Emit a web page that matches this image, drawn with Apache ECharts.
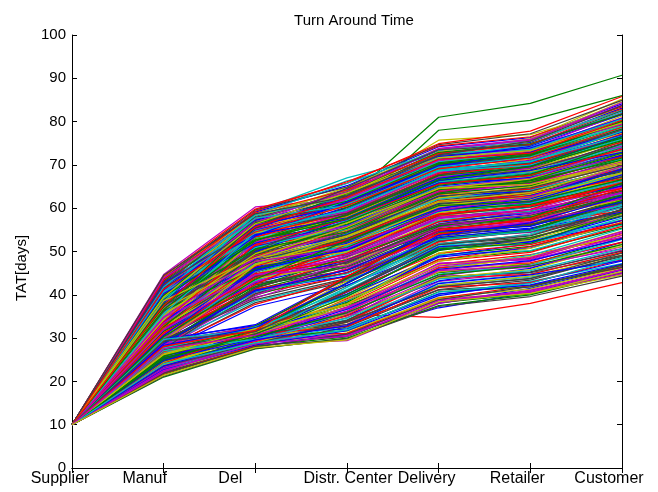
<!DOCTYPE html>
<html>
<head>
<meta charset="utf-8">
<script src="https://cdn.jsdelivr.net/npm/echarts@6/dist/echarts.min.js"></script>
<style>
  html, body { margin: 0; padding: 0; background: #fff; }
  #chart { width: 658px; height: 492px; }
</style>
</head>
<body>
<div id="chart"></div>
<script>
// Supply-chain stages along the x axis
const stages = ['Supplier', 'Manuf', 'Del', 'Distr. Center', 'Delivery', 'Retailer', 'Customer'];

// Value-axis range and step (days)
const yMin = 0;
const yMax = 100;
const yStep = 10;

// Every run starts at the supplier with the same TAT
const supplierTat = 10;

// Cumulative TAT per run for Manuf, Del, Distr. Center, Delivery, Retailer, Customer
// Runs on the edges of the bundle
const edgeRuns = [
  [22.0, 28.0, 31.0, 37.0, 40.5, 45.7],
  [35.0, 50.0, 62.0, 81.0, 84.2, 90.7],
  [25.0, 30.0, 35.5, 34.8, 38.0, 42.8],
  [43.5, 59.2, 67.0, 72.5, 74.0, 80.0],
  [44.7, 60.3, 62.0, 71.0, 73.0, 80.0],
  [40.0, 56.0, 63.0, 75.7, 77.0, 83.0],
  [30.0, 41.0, 45.0, 54.0, 56.0, 61.0],
  [23.0, 28.8, 30.5, 38.0, 41.5, 46.5],
  [37.0, 52.0, 58.5, 78.0, 80.3, 86.0],
  [33.0, 46.0, 52.0, 61.0, 63.0, 69.0],
  [42.5, 58.5, 66.3, 71.0, 73.0, 79.0],
  [23.0, 28.5, 29.4, 38.0, 41.0, 46.0],
  [39.0, 55.0, 60.5, 70.0, 72.0, 78.0],
  [27.0, 30.8, 41.0, 51.0, 53.0, 59.0],
  [36.0, 51.0, 57.0, 65.5, 67.0, 73.0],
  [21.0, 27.5, 30.0, 37.5, 40.0, 45.0]
];

// Runs that pass through the upper branch at Del
const upperRuns = [
  [38.4, 52.7, 58.2, 66.5, 68.3, 74.6],
  [31.2, 44.5, 49.8, 57.3, 59.1, 63.8],
  [42.1, 57.4, 63.6, 71.2, 73.4, 80.5],
  [35.6, 47.3, 51.5, 60.4, 62.7, 69.2],
  [29.3, 40.6, 45.2, 53.8, 55.4, 60.3],
  [40.7, 55.2, 60.9, 69.6, 71.3, 78.4],
  [33.5, 48.1, 55.3, 62.7, 64.5, 70.8],
  [36.8, 50.4, 54.6, 63.1, 66.2, 71.7],
  [27.4, 38.2, 43.1, 51.6, 53.2, 58.5],
  [41.3, 53.8, 59.4, 68.2, 70.6, 76.3],
  [34.2, 46.7, 53.1, 61.5, 63.3, 68.9],
  [39.5, 56.3, 62.2, 70.4, 72.8, 79.6],
  [30.6, 42.2, 47.5, 56.1, 57.6, 62.4],
  [37.1, 49.6, 56.4, 64.8, 66.1, 73.2],
  [43.2, 58.1, 64.5, 73.3, 75.2, 83.1],
  [32.4, 45.3, 50.2, 58.6, 61.4, 66.7],
  [28.2, 41.5, 48.3, 54.2, 56.5, 61.6],
  [38.9, 54.1, 57.3, 67.4, 69.5, 77.2],
  [35.3, 51.2, 57.8, 65.2, 67.4, 72.5],
  [41.8, 52.3, 56.7, 65.9, 68.1, 75.4],
  [30.1, 43.4, 51.2, 59.3, 60.8, 65.5],
  [36.2, 48.5, 52.4, 61.2, 63.5, 67.3],
  [33.1, 46.2, 49.3, 57.7, 60.2, 64.6],
  [40.2, 57.1, 61.5, 70.8, 73.1, 81.3],
  [29.6, 39.4, 44.4, 52.5, 54.7, 59.2],
  [37.6, 53.5, 60.3, 68.6, 70.4, 75.8],
  [34.7, 49.2, 53.7, 62.3, 63.8, 69.6],
  [42.6, 55.7, 62.8, 72.1, 74.5, 82.2],
  [31.7, 44.1, 52.6, 60.5, 62.2, 67.1],
  [39.1, 50.8, 55.5, 64.2, 66.6, 72.3],
  [27.1, 37.3, 42.2, 50.4, 52.3, 56.4],
  [36.5, 52.2, 58.6, 66.3, 69.2, 76.1],
  [32.8, 47.6, 51.1, 59.7, 62.4, 65.3],
  [40.4, 54.6, 58.5, 67.8, 69.1, 74.2],
  [35.1, 45.8, 50.6, 58.2, 60.5, 66.1],
  [43.6, 59.1, 65.2, 74.2, 76.3, 84.1],
  [30.3, 41.2, 46.5, 55.3, 57.2, 63.2],
  [38.2, 51.5, 59.2, 67.1, 68.6, 73.5],
  [33.8, 49.4, 56.1, 63.4, 65.3, 71.3],
  [41.1, 56.5, 60.4, 69.3, 72.2, 79.1],
  [28.6, 42.3, 45.6, 53.4, 56.1, 62.1],
  [37.3, 47.1, 54.2, 62.6, 64.2, 68.4],
  [34.4, 50.1, 55.2, 64.1, 65.6, 70.3],
  [39.7, 53.3, 57.6, 66.7, 68.4, 74.5],
  [31.4, 43.2, 48.2, 57.2, 58.3, 61.7],
  [42.3, 54.4, 61.3, 70.2, 72.4, 78.2],
  [36.1, 46.4, 51.8, 60.1, 61.6, 66.4],
  [29.2, 44.3, 50.4, 58.1, 59.4, 64.2],
  [40.8, 58.3, 63.1, 72.4, 74.1, 80.2],
  [35.4, 48.2, 52.1, 61.3, 64.3, 70.4],
  [32.2, 42.6, 46.3, 54.6, 56.2, 60.4],
  [38.6, 55.4, 61.7, 69.4, 71.6, 77.5],
  [33.3, 45.1, 54.3, 61.1, 62.5, 67.4],
  [41.5, 51.6, 55.1, 64.5, 67.3, 73.4],
  [27.8, 39.2, 46.2, 53.1, 54.4, 58.2],
  [37.2, 52.4, 56.2, 65.4, 67.2, 71.5],
  [34.1, 47.4, 52.3, 60.2, 62.1, 68.3],
  [39.3, 57.3, 64.1, 71.4, 72.5, 78.8],
  [30.8, 40.3, 44.2, 52.2, 55.1, 60.1],
  [36.4, 49.1, 57.2, 64.4, 66.4, 72.1],
  [42.4, 56.2, 59.1, 68.4, 71.4, 77.3],
  [31.5, 46.1, 49.2, 58.4, 60.3, 65.2],
  [35.8, 50.6, 58.1, 66.2, 67.5, 73.7],
  [40.1, 53.2, 60.1, 68.1, 70.2, 75.2],
  [28.4, 38.6, 43.4, 51.2, 52.6, 57.3],
  [38.3, 48.4, 53.4, 62.2, 65.1, 70.2],
  [33.6, 44.2, 47.3, 56.2, 58.4, 63.1],
  [43.1, 57.2, 62.4, 71.6, 74.3, 81.6],
  [34.5, 51.4, 54.3, 63.2, 64.4, 69.1],
  [37.4, 54.2, 59.3, 67.3, 70.1, 76.4],
  [29.4, 43.1, 49.1, 56.3, 57.4, 62.2],
  [41.2, 55.3, 63.2, 72.2, 73.5, 79.3],
  [32.5, 48.3, 53.2, 61.2, 63.1, 67.2],
  [39.2, 49.3, 54.2, 63.3, 65.2, 71.1],
  [36.3, 53.1, 57.1, 66.1, 68.2, 74.1],
  [30.4, 45.2, 52.2, 60.2, 61.3, 66.2],
  [44.1, 58.4, 63.3, 73.1, 76.1, 85.2],
  [35.2, 46.1, 50.3, 59.2, 61.2, 65.1],
  [38.1, 52.3, 60.2, 69.2, 70.3, 76.2],
  [31.1, 41.3, 45.1, 54.1, 56.3, 59.4],
  [40.3, 56.1, 62.1, 71.1, 73.2, 79.4],
  [34.3, 48.6, 51.4, 60.3, 63.2, 68.1],
  [28.1, 40.2, 47.1, 55.2, 56.2, 61.3],
  [37.5, 50.2, 55.4, 64.3, 66.3, 71.2],
  [42.2, 59.3, 66.1, 74.4, 76.5, 83.4],
  [33.2, 47.2, 54.1, 62.1, 64.1, 69.4],
  [39.4, 54.3, 58.1, 67.2, 68.5, 73.1],
  [30.2, 44.4, 48.1, 56.4, 59.2, 64.1],
  [36.6, 51.1, 56.1, 65.1, 67.1, 72.2],
  [41.4, 53.4, 58.3, 67.6, 70.3, 77.1],
  [32.1, 43.3, 50.1, 57.1, 59.3, 63.3],
  [35.5, 52.1, 59.1, 67.2, 69.3, 74.3],
  [38.5, 47.5, 52.2, 61.4, 62.3, 67.1],
  [29.1, 41.1, 44.3, 53.2, 55.2, 59.1],
  [43.3, 56.4, 61.2, 70.1, 72.1, 80.1],
  [34.6, 45.4, 51.3, 59.1, 61.1, 66.3],
  [40.6, 55.1, 59.2, 68.3, 71.1, 78.1],
  [31.3, 47.1, 53.3, 61.4, 62.2, 68.2],
  [37.7, 46.3, 50.4, 59.4, 62.1, 69.1],
  [36.7, 55.5, 63.4, 70.3, 72.2, 78.3],
  [39.8, 55.8, 61.1, 70.6, 72.9, 80.8],
  [30.9, 43.7, 49.5, 57.9, 59.7, 64.9],
  [41.7, 57.8, 64.8, 73.7, 75.8, 84.6],
  [35.9, 49.8, 54.9, 63.8, 65.9, 71.9],
  [28.9, 39.9, 45.8, 54.4, 55.9, 61.4],
  [37.9, 53.9, 58.9, 67.9, 69.8, 76.8],
  [33.9, 46.9, 51.9, 60.8, 62.9, 67.8],
  [42.8, 58.8, 63.9, 72.8, 75.4, 82.8],
  [32.7, 45.9, 52.8, 60.9, 62.8, 68.7],
  [40.9, 54.9, 59.8, 68.8, 70.9, 76.9],
  [27.6, 37.8, 43.7, 51.9, 53.8, 59.7],
  [36.9, 51.8, 56.8, 65.7, 67.8, 74.8],
  [34.8, 48.8, 55.7, 63.9, 65.8, 70.7],
  [43.8, 59.6, 64.9, 74.7, 77.2, 84.9],
  [31.8, 42.8, 47.9, 56.8, 58.8, 63.7],
  [38.7, 50.7, 56.9, 65.6, 67.9, 73.9],
  [29.8, 44.8, 51.7, 59.8, 60.9, 66.8],
  [41.9, 56.8, 61.8, 71.8, 73.8, 81.9],
  [35.7, 47.8, 53.8, 62.9, 64.8, 69.8],
  [33.4, 49.9, 57.7, 65.8, 66.9, 72.8],
  [39.9, 52.9, 56.3, 65.3, 67.7, 74.9],
  [30.7, 40.8, 45.9, 53.9, 56.8, 62.8],
  [37.8, 55.9, 62.7, 70.9, 73.7, 80.9],
  [32.9, 44.7, 50.8, 59.8, 61.8, 66.9],
  [42.9, 57.9, 62.9, 72.7, 74.8, 81.8],
  [28.8, 41.8, 46.8, 55.8, 57.9, 63.9],
  [36.8, 48.9, 54.8, 63.7, 65.7, 71.8],
  [40.5, 53.7, 61.8, 70.7, 72.7, 78.9],
  [34.9, 46.8, 49.9, 58.9, 61.9, 67.9],
  [38.8, 56.9, 60.8, 69.9, 71.9, 77.9],
  [31.9, 45.7, 51.9, 59.9, 62.9, 68.8],
  [44.3, 59.8, 65.8, 74.9, 77.8, 85.8],
  [35.1, 50.9, 55.9, 64.9, 66.8, 71.4],
  [29.9, 42.9, 48.9, 57.8, 58.9, 64.8],
  [41.6, 54.8, 58.8, 67.7, 70.8, 77.7],
  [33.7, 48.7, 53.9, 62.8, 63.9, 68.8],
  [39.6, 57.6, 63.8, 72.9, 74.9, 81.7],
  [27.9, 40.7, 44.8, 52.9, 54.9, 60.9],
  [37.1, 51.7, 55.8, 64.7, 66.9, 73.8],
  [32.3, 47.8, 54.9, 62.4, 64.9, 70.9],
  [42.7, 55.9, 60.7, 69.8, 72.9, 79.8],
  [36.4, 45.9, 50.9, 59.7, 60.9, 65.8],
  [30.5, 44.9, 47.8, 56.9, 59.8, 65.9],
  [40.9, 56.7, 64.3, 73.8, 75.9, 83.8],
  [34.2, 52.8, 57.9, 66.8, 68.9, 75.7],
  [38.9, 49.7, 53.8, 62.7, 64.7, 69.9],
  [31.6, 41.9, 48.8, 55.9, 57.8, 62.9],
  [43.4, 58.9, 64.2, 72.6, 74.7, 82.9],
  [35.8, 53.8, 60.9, 68.9, 70.8, 76.7],
  [29.5, 43.8, 46.9, 55.7, 57.7, 61.9],
  [37.6, 47.9, 52.9, 61.8, 63.9, 68.7],
  [41.1, 55.8, 62.6, 71.9, 73.9, 80.7],
  [33.1, 46.6, 52.7, 61.7, 62.8, 66.8],
  [39.2, 54.7, 59.7, 68.6, 69.9, 75.9],
  [28.3, 39.8, 47.8, 54.8, 56.9, 60.8],
  [36.2, 50.3, 58.7, 66.9, 68.8, 74.9],
  [42.1, 53.9, 57.8, 66.9, 69.7, 76.6],
  [32.6, 49.6, 55.6, 64.6, 65.9, 71.6],
  [38.4, 58.6, 65.7, 73.4, 75.6, 82.6],
  [34.8, 44.6, 48.6, 57.6, 59.6, 63.6],
  [30.2, 46.9, 53.6, 61.6, 63.6, 69.6],
  [40.3, 51.9, 57.4, 66.4, 68.7, 72.9],
  [37.2, 56.6, 61.6, 70.5, 72.6, 79.9],
  [31.2, 42.4, 51.6, 58.7, 60.6, 65.7],
  [43.9, 57.5, 63.7, 73.6, 75.7, 84.4],
  [35.3, 49.5, 56.6, 64.5, 66.7, 72.6],
  [29.7, 38.9, 43.8, 52.8, 54.6, 58.9],
  [39.6, 52.6, 58.4, 67.5, 69.6, 76.5],
  [33.8, 51.6, 57.5, 65.6, 67.6, 73.6],
  [41.8, 58.5, 62.5, 71.5, 73.6, 80.6],
  [36.7, 47.7, 51.6, 60.6, 62.6, 67.6],
  [27.5, 41.6, 47.6, 55.6, 57.5, 62.6],
  [38.3, 53.6, 61.4, 69.7, 71.7, 77.6],
  [32.4, 43.9, 49.6, 58.5, 60.6, 64.5],
  [40.7, 57.7, 60.6, 69.5, 71.8, 78.6],
  [34.9, 48.5, 54.6, 63.6, 65.6, 70.6],
  [42.5, 55.6, 64.6, 73.5, 74.6, 82.5],
  [30.6, 45.6, 50.6, 59.6, 61.7, 67.7],
  [37.9, 50.6, 54.5, 63.5, 66.5, 72.7],
  [35.6, 54.5, 59.6, 68.7, 70.7, 77.8],
  [31.9, 44.6, 46.7, 55.5, 58.6, 63.5],
  [39.5, 56.4, 63.5, 71.7, 73.3, 79.7],
  [28.7, 40.9, 45.7, 54.7, 55.8, 61.5],
  [36.6, 52.7, 57.6, 66.6, 69.6, 75.6],
  [41.3, 54.5, 60.6, 69.1, 71.6, 78.7],
  [33.5, 47.7, 50.7, 59.5, 62.6, 69.7],
  [38.6, 48.6, 55.6, 64.6, 65.5, 70.5],
  [44.5, 58.7, 62.6, 72.3, 75.5, 83.7],
  [30.3, 43.6, 52.5, 60.6, 61.5, 66.6],
  [37.5, 55.7, 62.5, 71.3, 72.7, 80.3]
];

// Runs that pass through the lower branch at Del
const lowerRuns = [
  [24.1, 29.5, 33.2, 43.1, 45.2, 50.3],
  [27.2, 31.1, 38.3, 48.2, 50.1, 55.4],
  [22.3, 28.6, 31.2, 39.4, 41.3, 46.2],
  [26.1, 30.4, 36.1, 46.3, 48.4, 54.1],
  [29.2, 32.6, 42.1, 52.3, 55.2, 61.1],
  [23.2, 29.1, 34.3, 42.2, 44.1, 48.3],
  [25.3, 31.5, 40.2, 50.4, 52.2, 58.1],
  [28.1, 30.2, 35.1, 44.3, 47.1, 52.2],
  [21.6, 28.1, 30.3, 38.2, 40.2, 45.1],
  [26.6, 32.1, 43.2, 54.1, 56.3, 63.2],
  [24.6, 30.1, 37.2, 47.1, 49.3, 53.2],
  [27.6, 31.2, 33.1, 41.2, 43.4, 49.1],
  [23.6, 28.7, 32.3, 40.1, 43.1, 47.2],
  [29.6, 33.1, 44.1, 56.2, 58.1, 65.2],
  [25.6, 29.6, 36.3, 45.2, 46.3, 51.1],
  [22.6, 29.2, 38.1, 49.1, 51.2, 56.3],
  [28.6, 32.2, 39.3, 49.3, 53.1, 59.2],
  [24.2, 30.6, 31.1, 39.2, 42.1, 46.4],
  [26.2, 28.6, 34.1, 44.1, 45.3, 50.1],
  [27.1, 32.4, 41.2, 51.2, 54.1, 60.2],
  [23.1, 30.2, 35.3, 43.2, 46.1, 52.1],
  [25.1, 31.1, 37.1, 47.2, 48.2, 54.3],
  [28.2, 31.6, 42.6, 53.2, 55.1, 62.1],
  [24.5, 29.2, 33.6, 42.1, 44.3, 49.2],
  [26.4, 30.1, 39.1, 48.1, 51.1, 57.2],
  [22.1, 28.2, 32.6, 41.1, 42.2, 46.3],
  [29.1, 32.1, 36.6, 46.1, 49.1, 55.2],
  [25.2, 30.5, 40.6, 51.1, 52.3, 57.1],
  [23.4, 29.4, 30.6, 38.1, 41.1, 45.2],
  [27.4, 31.4, 37.6, 45.1, 47.2, 53.1],
  [24.3, 28.5, 35.6, 45.3, 47.3, 51.2],
  [26.3, 32.5, 44.2, 55.1, 57.2, 64.1],
  [22.4, 30.1, 34.1, 44.2, 45.1, 49.1],
  [28.4, 30.6, 38.6, 49.2, 50.2, 56.1],
  [25.4, 31.2, 32.1, 40.2, 42.3, 47.1],
  [23.3, 29.3, 36.2, 47.3, 48.1, 53.3],
  [27.3, 32.3, 40.1, 50.2, 53.2, 58.2],
  [24.4, 30.3, 31.6, 39.1, 40.4, 44.6],
  [26.5, 29.1, 35.2, 46.2, 47.4, 52.1],
  [21.2, 27.6, 29.8, 37.3, 39.6, 44.3],
  [22.8, 28.9, 32.8, 42.7, 44.8, 49.7],
  [25.8, 30.8, 38.7, 48.7, 50.8, 56.7],
  [28.8, 32.8, 43.6, 54.6, 56.7, 63.7],
  [23.8, 29.8, 31.8, 40.7, 41.8, 46.8],
  [26.8, 31.8, 36.8, 45.8, 48.8, 53.8],
  [21.8, 28.3, 33.8, 43.8, 44.7, 49.8],
  [27.8, 30.9, 40.8, 50.8, 52.8, 59.8],
  [24.8, 29.9, 35.8, 44.8, 46.8, 52.8],
  [29.8, 32.9, 39.8, 48.9, 51.8, 58.8],
  [22.9, 29.7, 30.8, 38.8, 40.8, 45.8],
  [25.9, 31.9, 42.8, 52.8, 54.8, 61.8],
  [23.9, 28.9, 34.8, 43.9, 45.8, 51.8],
  [27.9, 32.7, 37.8, 47.8, 49.8, 55.8],
  [24.7, 30.7, 33.9, 41.8, 43.8, 48.8],
  [26.7, 29.8, 41.8, 51.8, 53.8, 60.8],
  [22.7, 28.4, 31.7, 39.8, 42.8, 47.8],
  [28.7, 31.7, 35.7, 45.7, 47.7, 53.7],
  [25.7, 32.8, 43.8, 55.8, 57.8, 65.8],
  [23.7, 30.8, 37.7, 46.8, 48.7, 54.7],
  [26.9, 30.9, 32.7, 41.7, 42.8, 48.1],
  [21.9, 27.9, 30.9, 38.9, 41.9, 46.9],
  [27.7, 32.6, 39.7, 50.7, 51.7, 57.7],
  [24.9, 29.9, 36.7, 45.9, 47.9, 52.9],
  [29.7, 31.9, 41.7, 52.7, 54.7, 60.7],
  [22.2, 29.6, 34.7, 45.6, 46.7, 50.7],
  [26.2, 31.3, 38.8, 47.7, 50.7, 56.8],
  [23.5, 28.8, 33.7, 41.9, 43.7, 49.6],
  [28.3, 32.4, 42.7, 53.7, 56.6, 62.7],
  [25.5, 30.3, 35.9, 44.6, 46.6, 51.6],
  [24.2, 31.7, 40.7, 49.6, 51.6, 56.6],
  [27.1, 29.7, 34.6, 43.6, 45.6, 50.6],
  [22.5, 28.7, 30.4, 38.6, 40.6, 44.9],
  [26.3, 32.2, 37.9, 49.7, 52.6, 58.6],
  [29.3, 31.5, 40.9, 51.6, 53.6, 59.6],
  [23.6, 29.6, 32.9, 42.6, 44.6, 47.9],
  [25.1, 30.9, 39.6, 50.6, 51.9, 58.9],
  [28.1, 31.8, 44.3, 54.8, 57.6, 64.6],
  [24.1, 28.9, 31.9, 40.6, 42.6, 48.6],
  [27.5, 30.7, 36.9, 46.6, 48.6, 54.6],
  [21.4, 27.8, 29.6, 38.4, 40.3, 45.4]
];

// Classic MATLAB line colour order
const lineColors = ['#0000ff', '#008000', '#ff0000', '#00bfbf', '#bf00bf', '#bfbf00', '#404040'];

// Edge runs first, then the two branches interleaved (one lower run after every third upper run)
const runs = edgeRuns.slice();
let li = 0;
upperRuns.forEach((r, i) => {
  runs.push(r);
  if (i % 3 === 1 && li < lowerRuns.length) runs.push(lowerRuns[li++]);
});
while (li < lowerRuns.length) runs.push(lowerRuns[li++]);

const series = runs.map((r, i) => ({
  type: 'line',
  data: [supplierTat].concat(r),
  symbol: 'none',
  silent: true,
  animation: false,
  lineStyle: { width: 1.2, color: lineColors[i % lineColors.length] },
  z: 2
}));

const fontFamily = 'Liberation Sans, Arial, sans-serif';
const tickSize = 15;
const stageSize = 16;

// Horizontal nudges for the stage labels (px, negative = left)
const labelNudge = [-12, -19, -25, 1, -12, -13, -13];
const rich = {};
labelNudge.forEach((n, i) => {
  rich['n' + i] = {
    fontSize: stageSize,
    fontFamily: fontFamily,
    color: '#000',
    padding: n < 0 ? [0, -2 * n, 0, 0] : [0, 0, 0, 2 * n]
  };
});

const axisLine = { show: true, lineStyle: { color: '#000', width: 1 } };
const insideTick = { show: true, inside: true, length: 5, lineStyle: { color: '#000', width: 1 } };

const chart = echarts.init(document.getElementById('chart'), null, { renderer: 'canvas' });
chart.setOption({
  animation: false,
  backgroundColor: '#fff',
  title: {
    text: 'Turn Around Time',
    left: 349,
    top: 8,
    textAlign: 'center',
    textStyle: { fontSize: 15, fontWeight: 'normal', color: '#000', fontFamily: fontFamily }
  },
  graphic: [{
    type: 'text',
    x: 22,
    y: 268,
    rotation: Math.PI / 2,
    style: {
      text: 'TAT[days]',
      fontSize: 15,
      fontFamily: fontFamily,
      fill: '#000',
      align: 'center',
      verticalAlign: 'middle'
    }
  }],
  grid: { left: 72, top: 35, right: 36, bottom: 24, containLabel: false, show: false },
  xAxis: [
    {
      type: 'category',
      data: stages,
      boundaryGap: false,
      position: 'bottom',
      axisLine: axisLine,
      axisTick: Object.assign({ alignWithLabel: true, interval: 0 }, insideTick),
      axisLabel: {
        interval: 0,
        hideOverlap: false,
        margin: 3,
        color: '#000',
        fontSize: stageSize,
        fontFamily: fontFamily,
        formatter: (v, i) => '{n' + i + '|' + v + '}',
        rich: rich
      },
      splitLine: { show: false }
    },
    {
      type: 'category',
      data: stages,
      boundaryGap: false,
      position: 'top',
      axisLine: axisLine,
      axisTick: Object.assign({ interval: 0 }, insideTick),
      axisLabel: { show: false },
      splitLine: { show: false }
    }
  ],
  yAxis: [
    {
      type: 'value',
      min: yMin,
      max: yMax,
      interval: yStep,
      position: 'left',
      axisLine: axisLine,
      axisTick: insideTick,
      axisLabel: { margin: 6, color: '#000', fontSize: tickSize, fontFamily: fontFamily },
      splitLine: { show: false }
    },
    {
      type: 'value',
      min: yMin,
      max: yMax,
      interval: yStep,
      position: 'right',
      axisLine: axisLine,
      axisTick: insideTick,
      axisLabel: { show: false },
      splitLine: { show: false }
    }
  ],
  series: series
});
</script>
</body>
</html>
